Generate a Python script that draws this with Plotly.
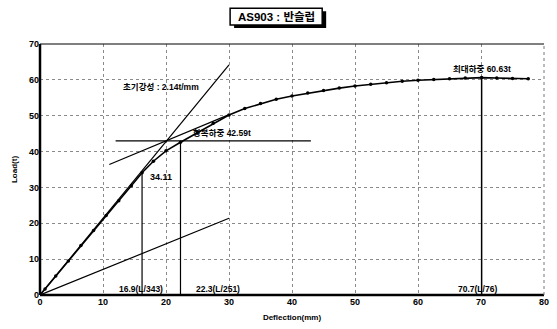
import plotly.graph_objects as go

# load-deflection curve
defl = [0, 0.8, 2.5, 4.5, 6.5, 8.5, 10.5, 12.5, 14.5, 16.2, 18.0, 20.0, 22.3, 25.0, 27.5, 30.0,
        32.5, 35.0, 37.5, 40.0, 42.5, 45.0, 47.5, 50.0, 52.5, 55.0, 57.5, 60.0, 62.5, 65.0, 67.5,
        70.1, 72.5, 75.0, 77.5]
load = [0, 1.7, 5.3, 9.5, 13.8, 18.0, 22.2, 26.3, 30.5, 34.11, 37.3, 40.2, 42.59, 45.3, 47.9, 50.2,
        52.0, 53.4, 54.6, 55.5, 56.3, 57.0, 57.7, 58.3, 58.8, 59.2, 59.6, 59.9, 60.1, 60.3, 60.5,
        60.63, 60.5, 60.4, 60.3]

init_stiff_x = [0, 30]
init_stiff_y = [0, 64.2]
third_stiff_x = [0, 30]
third_stiff_y = [0, 21.4]
tangent_x = [11, 30]
tangent_y = [36.4, 50.3]
yield_h_x = [12, 43]
yield_h_y = [43.0, 43.0]

pt_34_x, pt_34_y = 16.2, 34.11
yield_x, yield_y = 22.3, 42.59
max_x, max_y = 70.1, 60.63

x_ticks = [0, 10, 20, 30, 40, 50, 60, 70, 80]
y_ticks = [0, 10, 20, 30, 40, 50, 60, 70]

title_text = "AS903 : 반슬럽"
lbl_init = "초기강성 : 2.14t/mm"
lbl_yield = "항복하중 42.59t"
lbl_max = "최대하중 60.63t"
lbl_34 = "34.11"
lbl_d1 = "16.9(L/343)"
lbl_d2 = "22.3(L/251)"
lbl_d3 = "70.7(L/76)"

FONT = "Liberation Sans, Noto Sans CJK KR, sans-serif"
LW = 1.2

fig = go.Figure()

def line(xs, ys, w=LW):
    fig.add_trace(go.Scatter(x=xs, y=ys, mode="lines", line=dict(color="black", width=w),
                             hoverinfo="skip", showlegend=False))

line(init_stiff_x, init_stiff_y)
line(third_stiff_x, third_stiff_y)
line(tangent_x, tangent_y)
line(yield_h_x, yield_h_y)
line([pt_34_x, pt_34_x], [0, pt_34_y])
line([yield_x, yield_x], [0, yield_y])
line([max_x, max_x], [0, max_y], w=1.5)

fig.add_trace(go.Scatter(x=defl, y=load, mode="lines+markers",
                         line=dict(color="black", width=1.6),
                         marker=dict(color="black", size=3.5),
                         hoverinfo="skip", showlegend=False))

def txt(x, y, t, size=8.5, anchor="left"):
    fig.add_annotation(x=x, y=y, text="<b>" + t + "</b>", showarrow=False,
                       xanchor=anchor, yanchor="middle",
                       font=dict(family=FONT, size=size, color="black"))

txt(12.9, 58, lbl_init)
txt(24.0, 45.3, lbl_yield)
txt(65.3, 63.0, lbl_max)
txt(17.2, 33.0, lbl_34, size=9)
txt(12.3, 1.6, lbl_d1)
txt(24.5, 1.6, lbl_d2)
txt(66.0, 1.6, lbl_d3)

# title box with shadow (paper coords derived from pixel frame)
def px_x(p):
    return (p - 40) / 509
def px_y(p):
    return (296 - p) / 252

fig.add_shape(type="rect", xref="paper", yref="paper",
              x0=px_x(236), x1=px_x(329), y0=px_y(28), y1=px_y(11),
              fillcolor="black", line=dict(width=0))
fig.add_shape(type="rect", xref="paper", yref="paper",
              x0=px_x(232), x1=px_x(325), y0=px_y(25), y1=px_y(8),
              fillcolor="white", line=dict(color="black", width=1.5))
fig.add_annotation(xref="paper", yref="paper", x=px_x(278.5), y=px_y(16.5),
                   xanchor="center", yanchor="middle",
                   text="<b>" + title_text + "</b>", showarrow=False,
                   font=dict(family=FONT, size=11.5, color="black"))

axis_common = dict(showline=False, zeroline=False, ticks="",
                   tickfont=dict(family=FONT, size=9, color="black"),
                   showgrid=True, gridcolor="#8a8a8a", gridwidth=1, griddash="dot")

fig.update_xaxes(range=[0, 80], tickvals=x_ticks, ticktext=["<b>%d</b>" % v for v in x_ticks],
                 title=dict(text="<b>Deflection(mm)</b>", font=dict(family=FONT, size=8, color="black"),
                            standoff=8), **axis_common)
fig.update_yaxes(range=[0, 70], tickvals=y_ticks, ticktext=["<b>%d</b>" % v for v in y_ticks],
                 title=dict(text="<b>Load(t)</b>", font=dict(family=FONT, size=8, color="black"),
                            standoff=10), **axis_common)

# frame: thick left/bottom axes, thin top, dotted right
fig.add_shape(type="line", xref="paper", yref="paper", x0=0, x1=0, y0=0, y1=1,
              line=dict(color="black", width=2.5))
fig.add_shape(type="line", xref="paper", yref="paper", x0=0, x1=1, y0=0, y1=0,
              line=dict(color="black", width=2.5))
fig.add_shape(type="line", xref="paper", yref="paper", x0=0, x1=1, y0=1, y1=1,
              line=dict(color="black", width=1))
fig.add_shape(type="line", xref="paper", yref="paper", x0=1, x1=1, y0=0, y1=1,
              line=dict(color="#777777", width=1, dash="dot"))

fig.update_layout(width=557, height=329, margin=dict(l=40, r=8, t=44, b=33),
                  plot_bgcolor="white", paper_bgcolor="white")

fig.write_html("out.html")
